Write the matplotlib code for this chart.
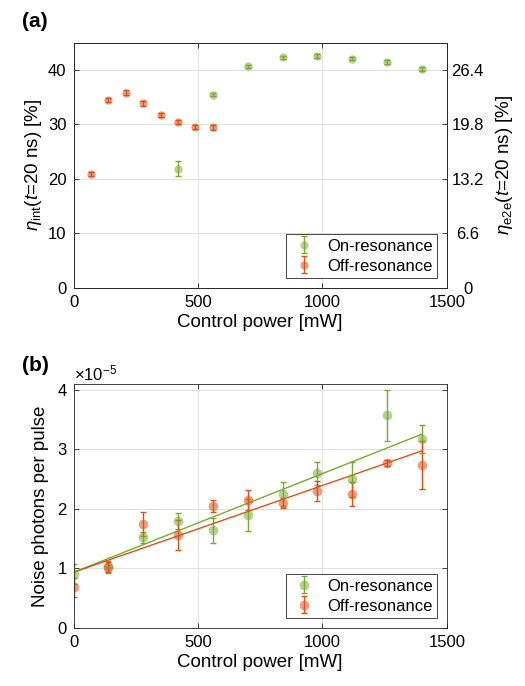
import numpy as np
import matplotlib
matplotlib.use("Agg")
import matplotlib.pyplot as plt

plt.rcParams['font.family'] = ['Liberation Sans', 'DejaVu Sans']
plt.rcParams['mathtext.fontset'] = 'custom'
plt.rcParams['mathtext.rm'] = 'Liberation Sans'
plt.rcParams['mathtext.it'] = 'Liberation Sans:italic'
plt.rcParams['mathtext.bf'] = 'Liberation Sans:bold'

# ---------------- data panel (a) ----------------
a_on_power = [420, 560, 700, 840, 980, 1120, 1260, 1400]
a_on_eta = [21.9, 35.5, 40.7, 42.35, 42.6, 42.1, 41.5, 40.2]
a_on_err = [1.4, 0.35, 0.3, 0.3, 0.3, 0.3, 0.35, 0.3]

a_off_power = [70, 140, 210, 280, 350, 420, 490, 560]
a_off_eta = [20.9, 34.5, 35.8, 33.9, 31.75, 30.4, 29.5, 29.5]
a_off_err = [0.4, 0.45, 0.45, 0.45, 0.4, 0.4, 0.4, 0.45]

e2e_ticks = [0, 6.6, 13.2, 19.8, 26.4]
e2e_labels = ['0', '6.6', '13.2', '19.8', '26.4']

# ---------------- data panel (b) (units of 1e-5) ----------------
b_power = [0, 140, 280, 420, 560, 700, 840, 980, 1120, 1260, 1400]
b_on_noise = [0.90, 1.02, 1.52, 1.79, 1.64, 1.89, 2.24, 2.59, 2.49, 3.57, 3.17]
b_on_err = [0.17, 0.10, 0.09, 0.13, 0.21, 0.27, 0.20, 0.20, 0.30, 0.43, 0.24]
b_off_noise = [0.68, 1.02, 1.745, 1.555, 2.05, 2.15, 2.09, 2.29, 2.25, 2.76, 2.73]
b_off_err = [0.16, 0.09, 0.20, 0.25, 0.10, 0.17, 0.08, 0.17, 0.20, 0.05, 0.40]

fit_power = [0, 1400]
fit_on = [0.93, 3.25]
fit_off = [0.93, 2.97]

green = (0.466, 0.674, 0.188)
red = (0.85, 0.325, 0.098)

TICK = 12
LAB = 13.5
LEG = 12

fig = plt.figure(figsize=(5.25, 6.86), dpi=100)

def style(ax):
    ax.tick_params(direction='in', top=True, right=True, labelsize=TICK,
                   length=3.5, width=0.6, color='#262626', pad=5)
    for s in ax.spines.values():
        s.set_linewidth(0.6)
        s.set_color('#262626')
    ax.grid(True, color='#e0e0e0', linewidth=0.7)
    ax.set_axisbelow(True)

def eb(ax, x, y, e, c, label, ms):
    h = ax.errorbar(x, y, yerr=e, fmt='o', color=c, ecolor=c, elinewidth=1.0,
                    capsize=2.2, capthick=1.0, markersize=ms,
                    markerfacecolor=c + (0.55,), markeredgecolor=c + (0.0,),
                    label=label)
    return h

def legend(ax):
    leg = ax.legend(loc='lower right', fontsize=LEG, frameon=True, fancybox=False,
                    edgecolor='#262626', framealpha=1, borderaxespad=0.6,
                    handletextpad=0.6, borderpad=0.25, labelspacing=0.3,
                    handlelength=1.6)
    leg.get_frame().set_linewidth(0.6)

# ---------------- panel (a) ----------------
ax1 = fig.add_axes([0.140, 0.5806, 0.711, 0.357])
style(ax1)
eb(ax1, a_on_power, a_on_eta, a_on_err, green, 'On-resonance', 6)
eb(ax1, a_off_power, a_off_eta, a_off_err, red, 'Off-resonance', 6)
ax1.set_xlim(0, 1500)
ax1.set_ylim(0, 45)
ax1.set_xticks([0, 500, 1000, 1500])
ax1.set_yticks([0, 10, 20, 30, 40])
ax1.tick_params(right=False)
ax1.set_xlabel('Control power [mW]', fontsize=LAB, labelpad=3)
ax1.set_ylabel(r'$\eta_{\rm int}$($t$=20 ns) [%]', fontsize=LAB, labelpad=3)
legend(ax1)

ax1r = ax1.twinx()
ax1r.set_ylim(0, 45 * 0.66)
ax1r.set_yticks(e2e_ticks)
ax1r.set_yticklabels(e2e_labels)
ax1r.tick_params(direction='in', labelsize=TICK, length=3.5, width=0.6,
                 color='#262626', pad=15)
for lab in ax1r.get_yticklabels():
    lab.set_horizontalalignment('center')
ax1r.set_ylabel(r'$\eta_{\rm e2e}$($t$=20 ns) [%]', fontsize=LAB, labelpad=7)
for s in ax1r.spines.values():
    s.set_linewidth(0.6)
    s.set_color('#262626')

fig.text(0.042, 0.983, '(a)', fontsize=15, fontweight='bold', va='top')

# ---------------- panel (b) ----------------
ax2 = fig.add_axes([0.140, 0.085, 0.711, 0.355])
style(ax2)
eb(ax2, b_power, b_on_noise, b_on_err, green, 'On-resonance', 7)
eb(ax2, b_power, b_off_noise, b_off_err, red, 'Off-resonance', 7)
ax2.plot(fit_power, fit_on, color=green, linewidth=1.0)
ax2.plot(fit_power, fit_off, color=red, linewidth=1.0)
ax2.set_xlim(0, 1500)
ax2.set_ylim(0, 4.09)
ax2.set_xticks([0, 500, 1000, 1500])
ax2.set_yticks([0, 1, 2, 3, 4])
ax2.set_xlabel('Control power [mW]', fontsize=LAB, labelpad=3)
ax2.set_ylabel('Noise photons per pulse', fontsize=LAB, labelpad=6)
legend(ax2)
ax2.text(0.0, 1.005, r'$\times10^{-5}$', transform=ax2.transAxes, fontsize=TICK,
         ha='left', va='bottom')

fig.text(0.042, 0.481, '(b)', fontsize=15, fontweight='bold', va='top')

fig.savefig('out.png', dpi=100)
